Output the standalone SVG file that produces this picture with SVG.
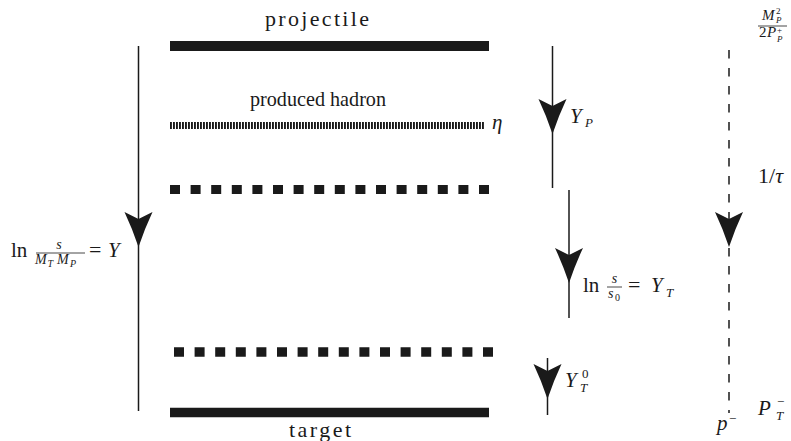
<svg xmlns="http://www.w3.org/2000/svg" width="791" height="441" viewBox="0 0 791 441">
<style>
.t{font-family:"Liberation Serif","DejaVu Serif",serif;fill:#1a1a1a}
.i{font-style:italic}
.bar{stroke:#1a1a1a;fill:none}
.ln{stroke:#1a1a1a;stroke-width:1.5;fill:none}
.ah{fill:#1a1a1a}
.fb{stroke:#1a1a1a;stroke-width:0.8}
</style>
<defs>
<path id="arrow" d="M-14,-35 Q-6,-18 0,0 Q6,-18 14,-35 L0,-28 Z"/>
</defs>
<rect width="791" height="441" fill="#fff"/>
<g id="projectile">
<line class="bar" x1="170" y1="46" x2="489" y2="46" stroke-width="10"/>
<text class="t" x="317" y="26" font-size="22" text-anchor="middle" textLength="104" lengthAdjust="spacing">projectile</text>
</g>
<g id="produced-hadron">
<line class="bar" x1="170" y1="125.5" x2="485" y2="125.5" stroke-width="7" stroke-dasharray="1.9 1.1"/>
<text class="t" x="318" y="106" font-size="21" text-anchor="middle" textLength="136" lengthAdjust="spacingAndGlyphs">produced hadron</text>
<text class="t i" x="492" y="129" font-size="21">η</text>
</g>
<g id="row-upper">
<line class="bar" x1="170" y1="189.5" x2="490" y2="189.5" stroke-width="9" stroke-dasharray="10 10.6"/>
</g>
<g id="row-lower">
<line class="bar" x1="174" y1="352" x2="494" y2="352" stroke-width="9.5" stroke-dasharray="10 10.6"/>
</g>
<g id="target">
<line class="bar" x1="170" y1="412.5" x2="489" y2="412.5" stroke-width="9.5"/>
<text class="t" x="320" y="437" font-size="22" text-anchor="middle" textLength="62" lengthAdjust="spacing">target</text>
</g>
<g id="connectors">
<line class="ln" x1="138.5" y1="46" x2="138.5" y2="411"/>
<use href="#arrow" class="ah" transform="translate(138.5,247)"/>
<line class="ln" x1="552.5" y1="46" x2="552.5" y2="188"/>
<use href="#arrow" class="ah" transform="translate(552.5,134)"/>
<line class="ln" x1="569" y1="190" x2="569" y2="318"/>
<use href="#arrow" class="ah" transform="translate(569,283)"/>
<line class="ln" x1="547.5" y1="358" x2="547.5" y2="415"/>
<use href="#arrow" class="ah" transform="translate(547.5,399)"/>
<line class="ln" x1="729" y1="50" x2="729" y2="413" stroke-width="1.3" stroke-dasharray="8.5 9.5"/>
<use href="#arrow" class="ah" transform="translate(729,247)"/>
</g>
<g id="label-Y">
<text class="t" x="11" y="257" font-size="21">ln</text>
<text class="t i" x="59" y="249" font-size="14" text-anchor="middle">s</text>
<line class="fb" x1="36" y1="253" x2="85" y2="253"/>
<text class="t i" x="35" y="264" font-size="14">M</text>
<text class="t i" x="47.5" y="267" font-size="10">T</text>
<text class="t i" x="57" y="264" font-size="14">M</text>
<text class="t i" x="70" y="267" font-size="10">P</text>
<text class="t" x="89" y="257" font-size="22">=</text>
<text class="t i" x="108" y="257" font-size="21">Y</text>
</g>
<g id="label-YP">
<text class="t i" x="570" y="123" font-size="21">Y</text>
<text class="t i" x="585" y="127" font-size="13">P</text>
</g>
<g id="label-YT">
<text class="t" x="583" y="292" font-size="21">ln</text>
<text class="t i" x="614.5" y="283" font-size="14" text-anchor="middle">s</text>
<line class="fb" x1="607" y1="287" x2="622" y2="287"/>
<text class="t i" x="608" y="298" font-size="14">s</text>
<text class="t" x="615" y="301" font-size="10">0</text>
<text class="t" x="628" y="292" font-size="22">=</text>
<text class="t i" x="651" y="292" font-size="21">Y</text>
<text class="t i" x="666" y="297" font-size="13">T</text>
</g>
<g id="label-YT0">
<text class="t i" x="565" y="387" font-size="21">Y</text>
<text class="t" x="582" y="378" font-size="13">0</text>
<text class="t i" x="580" y="392" font-size="13">T</text>
</g>
<g id="label-scale">
<text class="t i" x="762" y="20" font-size="15">M</text>
<text class="t" x="776" y="14" font-size="9">2</text>
<text class="t i" x="776" y="23" font-size="9">P</text>
<line class="fb" x1="758" y1="26" x2="787" y2="26"/>
<text class="t" x="759" y="37" font-size="15">2</text>
<text class="t i" x="767" y="37" font-size="15">P</text>
<text class="t" x="777" y="33" font-size="9">+</text>
<text class="t i" x="777" y="42" font-size="9">P</text>
<text class="t" x="758" y="183" font-size="22">1/<tspan class="i">τ</tspan></text>
<text class="t i" x="758" y="415" font-size="21">P</text>
<text class="t i" x="776" y="420" font-size="13">T</text>
<text class="t" x="777" y="406" font-size="13">−</text>
<text class="t i" x="717" y="430" font-size="21">p</text>
<text class="t" x="729" y="423" font-size="13">−</text>
</g>
</svg>
